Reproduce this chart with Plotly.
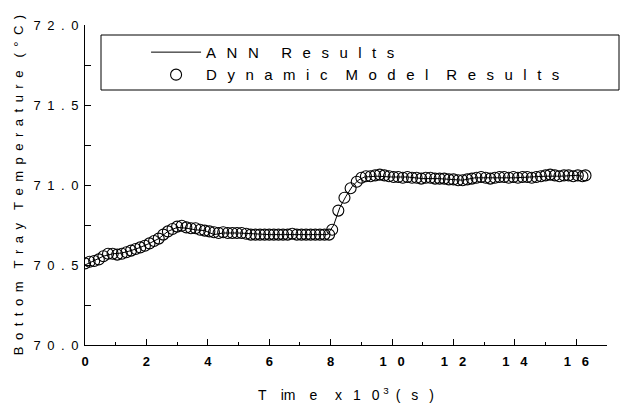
import plotly.graph_objects as go

time_model = [0.00, 0.15, 0.30, 0.45, 0.60, 0.75, 0.90, 1.05, 1.20, 1.35,
              1.50, 1.65, 1.80, 1.95, 2.10, 2.25, 2.40, 2.55, 2.70, 2.85,
              3.00, 3.15, 3.30, 3.45, 3.60, 3.75, 3.90, 4.05, 4.20, 4.35,
              4.50, 4.65, 4.80, 4.95, 5.10, 5.25, 5.40, 5.55, 5.70, 5.85,
              6.00, 6.15, 6.30, 6.45, 6.60, 6.75, 6.90, 7.05, 7.20, 7.35,
              7.50, 7.65, 7.80, 7.95, 8.05, 8.25, 8.45, 8.65, 8.85, 9.00,
              9.15, 9.30, 9.45, 9.60, 9.75, 9.90, 10.05, 10.20, 10.35, 10.50,
              10.65, 10.80, 10.95, 11.10, 11.25, 11.40, 11.55, 11.70, 11.85, 12.00,
              12.15, 12.30, 12.45, 12.60, 12.75, 12.90, 13.05, 13.20, 13.35, 13.50,
              13.65, 13.80, 13.95, 14.10, 14.25, 14.40, 14.55, 14.70, 14.85, 15.00,
              15.15, 15.30, 15.45, 15.60, 15.75, 15.90, 16.05, 16.20, 16.30]
temp_model = [70.51, 70.52, 70.525, 70.535, 70.555, 70.57, 70.57, 70.565, 70.57, 70.58,
              70.59, 70.60, 70.61, 70.62, 70.635, 70.65, 70.665, 70.69, 70.71, 70.725,
              70.74, 70.745, 70.735, 70.73, 70.73, 70.72, 70.715, 70.71, 70.705, 70.70,
              70.705, 70.70, 70.70, 70.70, 70.70, 70.695, 70.69, 70.69, 70.69, 70.69,
              70.69, 70.69, 70.69, 70.69, 70.69, 70.695, 70.69, 70.69, 70.69, 70.69,
              70.69, 70.69, 70.69, 70.69, 70.72, 70.84, 70.92, 70.98, 71.02, 71.045,
              71.055, 71.055, 71.06, 71.065, 71.06, 71.055, 71.05, 71.05, 71.045, 71.05,
              71.045, 71.045, 71.04, 71.045, 71.045, 71.04, 71.04, 71.04, 71.035, 71.035,
              71.03, 71.03, 71.035, 71.04, 71.045, 71.05, 71.045, 71.04, 71.045, 71.05,
              71.05, 71.045, 71.05, 71.045, 71.05, 71.05, 71.045, 71.05, 71.055, 71.06,
              71.065, 71.06, 71.055, 71.06, 71.06, 71.055, 71.06, 71.055, 71.06]

time_ann = [0.0, 0.3, 0.6, 0.9, 1.2, 1.5, 1.8, 2.1, 2.4, 2.7,
            3.0, 3.3, 3.6, 3.9, 4.2, 4.5, 5.0, 5.5, 6.0, 6.5,
            7.0, 7.5, 7.9, 8.1, 8.3, 8.5, 8.7, 8.9, 9.1, 9.5,
            10.0, 10.5, 11.0, 11.5, 12.0, 12.3, 12.7, 13.0, 13.5, 14.0,
            14.5, 15.0, 15.5, 16.0, 16.2]
temp_ann = [70.50, 70.53, 70.555, 70.57, 70.575, 70.59, 70.61, 70.635, 70.665, 70.71,
            70.735, 70.73, 70.72, 70.715, 70.69, 70.70, 70.70, 70.695, 70.69, 70.69,
            70.69, 70.69, 70.69, 70.75, 70.86, 70.93, 70.99, 71.03, 71.05, 71.055,
            71.05, 71.05, 71.04, 71.04, 71.035, 71.03, 71.045, 71.045, 71.045, 71.045,
            71.05, 71.055, 71.055, 71.06, 71.055]

y_tickvals = [70.0, 70.5, 71.0, 71.5, 72.0]
y_ticklabels = ["70.0", "70.5", "71.0", "71.5", "72.0"]
x_tickvals = [0, 2, 4, 6, 8, 10, 12, 14, 16]
x_ticklabels = ["0", "2", "4", "6", "8", "10", "12", "14", "16"]

ann_name = "ANN Results"
model_name = "Dynamic Model Results"
y_title = "Bottom Tray Temperature (°C)"

NB = "\u00a0"
EN = "\u2002"
TH = "\u2009"


def spaced(text, gap, word_gap):
    words = text.split(" ")
    return word_gap.join(gap.join(list(w)) for w in words)


G = EN + NB
x_title = ("T" + EN * 2 + "im" + EN * 2 + "e" + EN * 2 + NB + "x" + G + "1" + G + "0" + NB
           + "<sup style='font-size:9px'>3</sup>" + EN + "(" + G + "s" + G + ")")

font_family = "Liberation Sans, Arial, sans-serif"

fig = go.Figure()
fig.add_trace(go.Scatter(
    x=time_ann, y=temp_ann, mode="lines",
    line=dict(color="black", width=1),
    name=spaced(ann_name, EN + TH, EN * 3), legendgroup="a"))
fig.add_trace(go.Scatter(
    x=time_model, y=temp_model, mode="markers",
    marker=dict(symbol="circle-open", size=11, color="black", line=dict(width=1.1)),
    name=spaced(model_name, EN + TH, EN * 2 + TH), legendgroup="b"))

fig.update_layout(
    width=621, height=410,
    margin=dict(l=85, r=14, t=25, b=65),
    paper_bgcolor="white", plot_bgcolor="white",
    font=dict(family=font_family, color="black", size=13),
    showlegend=True,
    legend=dict(x=0.117, y=0.966, xanchor="left", yanchor="top",
                bgcolor="rgba(0,0,0,0)", borderwidth=0,
                font=dict(size=15, family=font_family),
                traceorder="grouped", tracegroupgap=0, itemwidth=50),
    xaxis=dict(range=[0, 17], showline=True, linecolor="black", linewidth=1,
               showgrid=False, zeroline=False, mirror=False, automargin=False,
               ticks="inside", ticklen=6, tickcolor="black", ticklabelstandoff=4,
               tickvals=x_tickvals, ticktext=[spaced(t, NB * 3, NB) for t in x_ticklabels],
               tickfont=dict(size=13, family=font_family, weight="bold"),
               minor=dict(dtick=1, ticks="inside", ticklen=3, tickcolor="black", showgrid=False),
               title=dict(text=x_title, font=dict(size=14, family=font_family), standoff=22)),
    yaxis=dict(range=[70, 72], showline=True, linecolor="black", linewidth=1,
               showgrid=False, zeroline=False, mirror=False, automargin=False,
               ticks="inside", ticklen=6, tickcolor="black", ticklabelstandoff=3,
               tickvals=y_tickvals, ticktext=[spaced(t, EN, EN) for t in y_ticklabels],
               tickfont=dict(size=13, family=font_family),
               minor=dict(dtick=0.25, ticks="inside", ticklen=6, tickcolor="black", showgrid=False),
               title=dict(text=spaced(y_title, EN, EN + EN),
                          font=dict(size=13, family=font_family), standoff=7)),
)

# legend frame
fig.add_shape(type="rect", xref="paper", yref="paper",
              x0=(101 - 85) / 522, x1=(619 - 85) / 522,
              y0=(345 - 90) / 320, y1=(345 - 35) / 320,
              line=dict(color="black", width=1), fillcolor="rgba(0,0,0,0)")

fig.write_html("out.html", config={"displayModeBar": False},
               post_script="document.body.style.margin='0';")
